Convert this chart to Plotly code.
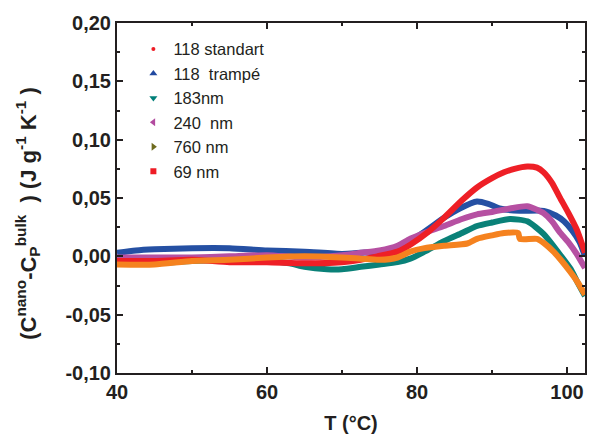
import plotly.graph_objects as go

# Temperatures (°C) and values (J g-1 K-1)
T_blue = [40, 42.5, 45, 50, 55, 60, 65, 70, 72.5, 74.7, 77.4, 79.1, 81, 83.6, 85.7, 88, 89.5, 91, 93.7, 96.9, 98.5, 99.6, 100.7, 101.7, 102.4]
v_blue = [0.003, 0.005, 0.006, 0.007, 0.007, 0.005, 0.004, 0.002, 0.003, 0.004, 0.008, 0.013, 0.021, 0.033, 0.041, 0.047, 0.045, 0.041, 0.039, 0.039, 0.035, 0.030, 0.022, 0.012, 0.000]

T_red = [40, 45, 50, 55, 60, 65, 70, 72.5, 74.7, 77.4, 79.1, 81.5, 83.6, 86, 88, 90, 91.6, 93, 94.7, 96, 96.9, 98, 99, 100.2, 101.3, 102.4]
v_red = [-0.004, -0.004, -0.003, -0.005, -0.005, -0.006, -0.005, -0.003, 0.000, 0.004, 0.010, 0.021, 0.033, 0.048, 0.059, 0.067, 0.072, 0.075, 0.077, 0.076, 0.072, 0.063, 0.051, 0.037, 0.023, 0.003]

T_teal = [40, 45, 50, 55, 60, 63, 65, 68, 70, 72.5, 75, 77.4, 79.1, 81, 83.6, 86, 88, 90, 92.4, 94.7, 96.9, 99, 100.5, 101.3, 102.4]
v_teal = [-0.006, -0.006, -0.004, -0.003, -0.004, -0.006, -0.009, -0.011, -0.011, -0.009, -0.007, -0.005, -0.002, 0.004, 0.013, 0.020, 0.026, 0.029, 0.032, 0.030, 0.019, 0.002, -0.011, -0.021, -0.034]

T_mag = [40, 45, 50, 55, 60, 65, 70, 72.5, 75, 77.4, 79.1, 81, 83.6, 86, 88, 90, 92.4, 94.7, 96.9, 98, 99, 100.2, 101.3, 102.4]
v_mag = [-0.001, -0.001, -0.001, 0.000, 0.001, -0.001, 0.001, 0.003, 0.005, 0.009, 0.015, 0.020, 0.026, 0.032, 0.036, 0.038, 0.041, 0.043, 0.037, 0.030, 0.021, 0.012, 0.002, -0.010]

T_orange = [40, 45, 50, 55, 60, 65, 70, 72.5, 75, 77.4, 79.1, 81, 83.6, 86.7, 88, 90, 91.6, 93.5, 93.7, 96, 97, 98.2, 99.3, 100.4, 101.4, 102.4]
v_orange = [-0.007, -0.007, -0.004, -0.003, -0.001, 0.000, -0.001, -0.002, -0.003, -0.001, 0.004, 0.007, 0.009, 0.011, 0.015, 0.018, 0.020, 0.020, 0.015, 0.015, 0.011, 0.004, -0.004, -0.013, -0.022, -0.033]

legend_names = ["118 standart", "118  trampé", "183nm", "240  nm", "760 nm", "69 nm"]
legend_colors = ["#ee1c25", "#2149a0", "#007f78", "#b24b9f", "#6e6b1e", "#ee1c25"]
legend_symbols = ["circle", "triangle-up", "triangle-down", "triangle-left", "triangle-right", "square"]
legend_sizes = [4, 7, 7, 7, 7, 6]

x_ticks = [40, 60, 80, 100]
y_ticks = [-0.10, -0.05, 0.00, 0.05, 0.10, 0.15, 0.20]
y_title = "(C<sup>nano</sup>-C<sub>P</sub><sup>bulk</sup>  ) (J g<sup>-1</sup> K<sup>-1</sup> )"

fig = go.Figure()

curves = [
    (T_teal, v_teal, "#0a8178"),
    (T_blue, v_blue, "#2550a3"),
    (T_mag, v_mag, "#b650a2"),
    (T_red, v_red, "#ee1f26"),
    (T_orange, v_orange, "#f5821f"),
]
for xs, ys, c in curves:
    fig.add_trace(go.Scatter(x=xs, y=ys, mode="lines", showlegend=False,
                             line=dict(color=c, width=6, shape="spline", smoothing=0.6),
                             hoverinfo="skip"))

for n, c, s, sz in zip(legend_names, legend_colors, legend_symbols, legend_sizes):
    fig.add_trace(go.Scatter(x=[None], y=[None], mode="markers", name=n,
                             marker=dict(color=c, symbol=s, size=sz)))

FONT = "Liberation Sans, Arial"
axis_common = dict(
    showline=True, linecolor="#231f20", linewidth=2, mirror="ticks",
    ticks="inside", ticklen=6, tickwidth=2, tickcolor="#231f20",
    showgrid=False, zeroline=False,
    tickfont=dict(family=FONT, size=20, color="#231f20", weight="bold"),
)

fig.update_xaxes(range=[40, 102.4], tickvals=x_ticks, ticktext=[str(v) for v in x_ticks],
                 minor=dict(ticks="inside", ticklen=3, tickwidth=2, dtick=10, tick0=40, tickcolor="#231f20"),
                 title=dict(text="T (°C)", standoff=14,
                            font=dict(family=FONT, size=20, color="#231f20", weight="bold")),
                 **axis_common)
fig.update_yaxes(range=[-0.10, 0.20], tickvals=y_ticks,
                 ticktext=[f"{v:.2f}".replace(".", ",") for v in y_ticks],
                 minor=dict(ticks="inside", ticklen=3, tickwidth=2, dtick=0.025, tick0=0, tickcolor="#231f20"),
                 **axis_common)

fig.add_annotation(text=y_title, xref="paper", yref="paper", x=-0.19, y=0.455,
                   xanchor="center", yanchor="middle", textangle=-90, showarrow=False,
                   font=dict(family=FONT, size=22, color="#231f20", weight="bold"))

fig.update_layout(
    width=589, height=440,
    margin=dict(l=117, r=2, t=23, b=67),
    plot_bgcolor="white", paper_bgcolor="white",
    showlegend=True,
    legend=dict(x=0.035, y=0.975, xanchor="left", yanchor="top",
                bgcolor="rgba(0,0,0,0)", tracegroupgap=0, itemwidth=30,
                font=dict(family=FONT, size=16.5, color="#231f20")),
)

fig.write_html("out.html", config={"displayModeBar": False},
               post_script="document.body.style.margin='0';document.body.style.overflow='hidden';")
